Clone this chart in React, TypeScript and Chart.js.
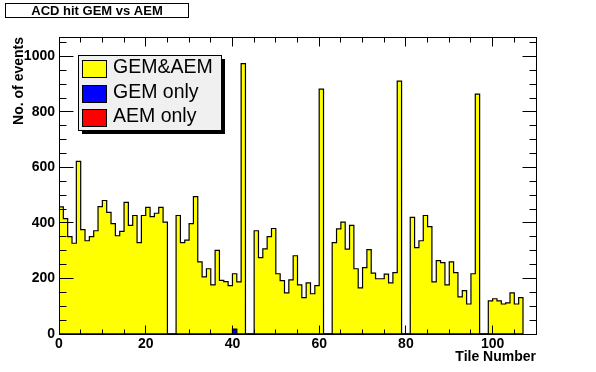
import React, { useEffect, useRef } from "react";
import { Chart, registerables } from "chart.js";

Chart.register(...registerables);

// Histogram contents, one value per tile (bins 0..106, bin width 1)
const gemAndAem = [
  458, 416, 351, 327, 622, 376, 336, 351, 372, 459,
  481, 438, 398, 354, 370, 474, 391, 427, 329, 427,
  456, 423, 435, 456, 403, 0, 0, 427, 329, 338,
  398, 495, 260, 206, 235, 177, 301, 193, 189, 174,
  217, 188, 974, 0, 0, 372, 275, 307, 351, 380,
  217, 192, 148, 195, 282, 177, 131, 184, 145, 174,
  882, 0, 0, 329, 379, 403, 306, 391, 235, 166,
  239, 304, 219, 199, 199, 216, 184, 221, 911, 0,
  0, 420, 311, 336, 427, 387, 188, 264, 257, 177,
  260, 221, 134, 156, 108, 217, 864, 0, 0, 119,
  127, 119, 108, 112, 148, 108, 131,
];

const gemOnly = [
  0, 0, 0, 0, 0, 0, 0, 0, 0, 0,
  0, 0, 0, 0, 0, 0, 0, 0, 0, 0,
  0, 0, 0, 0, 0, 0, 0, 0, 0, 0,
  0, 0, 0, 0, 0, 0, 0, 0, 0, 0,
  18, 0, 0, 0, 0, 0, 0, 0, 0, 0,
  0, 0, 0, 0, 0, 0, 0, 0, 0, 0,
  0, 0, 0, 0, 0, 0, 0, 0, 0, 0,
  0, 0, 0, 0, 0, 0, 0, 0, 0, 0,
  0, 0, 0, 0, 0, 0, 0, 0, 0, 0,
  0, 0, 0, 0, 0, 0, 0, 0, 0, 0,
  0, 0, 0, 0, 0, 0, 0,
];

const aemOnly = [
  0, 0, 0, 0, 0, 0, 0, 0, 0, 0,
  0, 0, 0, 0, 0, 0, 0, 0, 0, 0,
  0, 0, 0, 0, 0, 0, 0, 0, 0, 0,
  0, 0, 0, 0, 0, 0, 0, 0, 0, 0,
  0, 0, 0, 0, 0, 0, 0, 0, 0, 0,
  0, 0, 0, 0, 0, 0, 0, 0, 0, 0,
  0, 0, 0, 0, 0, 0, 0, 0, 0, 0,
  0, 0, 0, 0, 0, 0, 0, 0, 0, 0,
  0, 0, 0, 0, 0, 0, 0, 0, 0, 0,
  0, 0, 0, 0, 0, 0, 0, 0, 0, 0,
  0, 0, 0, 0, 0, 0, 0,
];

const seriesLabels = ["GEM&AEM", "GEM only", "AEM only"];
const seriesColors = ["#ffff00", "#0000ff", "#ff0000"];
const xTickLabels = [0, 20, 40, 60, 80, 100];
const yTickLabels = [0, 200, 400, 600, 800, 1000];
const chartTitle = "ACD hit GEM vs AEM";
const xTitle = "Tile Number";
const yTitle = "No. of events";

const X_MIN = 0;
const X_MAX = 110;
const Y_MIN = 0;
const Y_MAX = 1070;

const FONT = '"Liberation Sans", Arial, Helvetica, sans-serif';

function toSteps(values: number[]) {
  const pts: { x: number; y: number }[] = [{ x: 0, y: 0 }];
  values.forEach((v, i) => pts.push({ x: i, y: v }));
  pts.push({ x: values.length, y: 0 });
  return pts;
}

const px = (v: number) => Math.floor(v) + 0.5;

const rootDecor = {
  id: "rootDecor",
  afterDraw(chart: any) {
    const { ctx, chartArea } = chart;
    const xs = chart.scales.x;
    const ys = chart.scales.y;
    const L = px(chartArea.left);
    const R = px(chartArea.right);
    const T = px(chartArea.top);
    const B = px(chartArea.bottom);
    ctx.save();
    ctx.strokeStyle = "#000";
    ctx.lineWidth = 1;

    // frame
    ctx.strokeRect(L, T, R - L, B - T);

    // ticks inside frame
    ctx.beginPath();
    for (let v = Y_MIN; v <= Y_MAX; v += 50) {
      const y = px(ys.getPixelForValue(v));
      const len = v % 200 === 0 ? 14 : 7;
      ctx.moveTo(L, y);
      ctx.lineTo(L + len, y);
      ctx.moveTo(R, y);
      ctx.lineTo(R - len, y);
    }
    for (let v = X_MIN; v <= X_MAX; v += 5) {
      const x = px(xs.getPixelForValue(v));
      const len = v % 20 === 0 ? 9 : 5;
      ctx.moveTo(x, B);
      ctx.lineTo(x, B - len);
      ctx.moveTo(x, T);
      ctx.lineTo(x, T + len);
    }
    ctx.stroke();

    // title box
    ctx.fillStyle = "#fff";
    ctx.fillRect(5.5, 3.5, 183, 14);
    ctx.strokeRect(5.5, 3.5, 183, 14);
    ctx.fillStyle = "#000";
    ctx.font = `bold 13px ${FONT}`;
    ctx.textAlign = "center";
    ctx.textBaseline = "middle";
    ctx.fillText(chartTitle, 97, 11);

    // legend
    const lx = 78, ly = 55, lw = 143, lh = 75, sh = 4;
    ctx.fillStyle = "#000";
    ctx.fillRect(lx + sh, ly + sh, lw, lh);
    ctx.fillStyle = "#f0f0f0";
    ctx.fillRect(lx, ly, lw, lh);
    ctx.strokeRect(lx + 0.5, ly + 0.5, lw, lh);
    ctx.font = `19.5px ${FONT}`;
    ctx.textAlign = "left";
    ctx.textBaseline = "middle";
    chart.data.datasets.forEach((ds: any) => {
      const idx = ds.legendIndex;
      const top = 60 + idx * 24.5;
      ctx.fillStyle = ds.backgroundColor;
      ctx.fillRect(82.5, Math.round(top) + 0.5, 24, 17);
      ctx.strokeRect(82.5, Math.round(top) + 0.5, 24, 17);
      ctx.fillStyle = "#000";
      ctx.fillText(ds.label, 113, top + 8);
    });
    ctx.restore();
  },
};

export default function App() {
  const ref = useRef<HTMLCanvasElement | null>(null);

  useEffect(() => {
    if (!ref.current) return;
    const series = [gemAndAem, gemOnly, aemOnly];
    const datasets = series.map((vals, i) => ({
      label: seriesLabels[i],
      data: toSteps(vals),
      legendIndex: i,
      order: 3 - i,
      stepped: "before" as const,
      fill: "origin",
      backgroundColor: seriesColors[i],
      borderColor: "#000",
      borderWidth: 1.2,
      pointRadius: 0,
      tension: 0,
    }));
    const chart = new Chart(ref.current, {
      type: "line",
      data: { datasets } as any,
      options: {
        animation: false,
        responsive: false,
        maintainAspectRatio: false,
        events: [],
        layout: { padding: { top: 37, right: 60, left: 0, bottom: 0 } },
        plugins: {
          legend: { display: false },
          title: { display: false },
          tooltip: { enabled: false },
        },
        scales: {
          x: {
            type: "linear",
            min: X_MIN,
            max: X_MAX,
            grid: { display: false, drawTicks: false },
            border: { display: false },
            afterBuildTicks: (s: any) => {
              s.ticks = xTickLabels.map((v) => ({ value: v }));
            },
            afterFit: (s: any) => {
              s.height = 38;
            },
            ticks: {
              color: "#000",
              font: { family: FONT, size: 14, weight: "bold" },
              padding: 2,
              maxRotation: 0,
              autoSkip: false,
              callback: (v: any) => String(v),
            },
            title: {
              display: true,
              text: xTitle,
              align: "end",
              color: "#000",
              font: { family: FONT, size: 14, weight: "bold" },
              padding: { top: 0, bottom: 6 },
            },
          },
          y: {
            type: "linear",
            min: Y_MIN,
            max: Y_MAX,
            grid: { display: false, drawTicks: false },
            border: { display: false },
            afterBuildTicks: (s: any) => {
              s.ticks = yTickLabels.map((v) => ({ value: v }));
            },
            afterFit: (s: any) => {
              s.width = 59;
            },
            ticks: {
              color: "#000",
              font: { family: FONT, size: 14, weight: "bold" },
              padding: 4,
              autoSkip: false,
              callback: (v: any) => String(v),
            },
            title: {
              display: true,
              text: yTitle,
              align: "end",
              color: "#000",
              font: { family: FONT, size: 14, weight: "bold" },
              padding: { top: 11, bottom: 0 },
            },
          },
        },
      } as any,
      plugins: [rootDecor],
    });
    return () => chart.destroy();
  }, []);

  return (
    <div
      style={{
        position: "absolute",
        left: 0,
        top: 0,
        width: 596,
        height: 372,
        background: "#fff",
      }}
    >
      <canvas ref={ref} width={596} height={372} style={{ display: "block" }} />
    </div>
  );
}
